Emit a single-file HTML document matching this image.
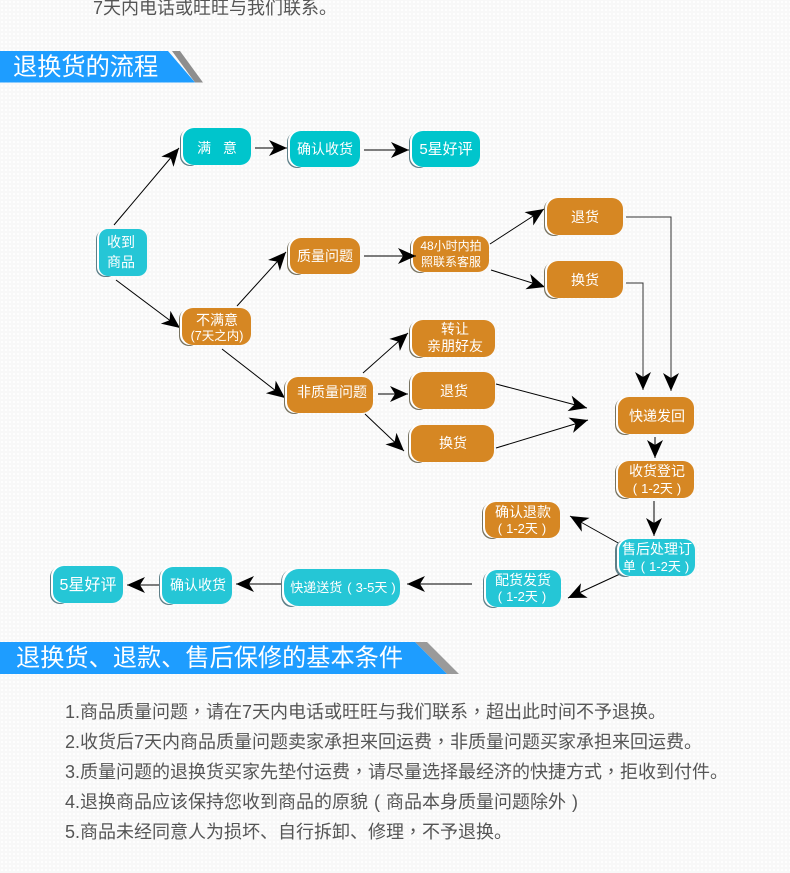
<!DOCTYPE html>
<html><head><meta charset="utf-8">
<style>
html,body{margin:0;padding:0}
body{width:790px;height:873px;overflow:hidden;background-color:#f8f8f8;background-image:radial-gradient(circle,#ffffff 1px,transparent 1.2px);background-size:4px 4px}
svg{display:block;position:absolute;left:0;top:0}
text{font-family:"Liberation Sans","Noto Sans CJK SC",sans-serif}
.n{fill:#fff;font-size:14px;text-anchor:middle}
.s{fill:#fff;font-size:13px;text-anchor:middle}
.t{fill:#fff;font-size:24.2px}
.l{fill:#555;font-size:18px}
.c{font-family:"Noto Sans CJK TC",sans-serif}
.a{stroke:#000;stroke-width:1;fill:none;marker-end:url(#h)}
.p{stroke:#333;stroke-width:1;fill:none;marker-end:url(#h)}
.o{fill:#d68723}.b{fill:#25c6d6}.g{fill:#00c5cc}
.d1{fill:#77725f}.d2{fill:#5d7f88}.w{fill:#fff}
</style></head><body>
<svg width="790" height="873" viewBox="0 0 790 873" xmlns="http://www.w3.org/2000/svg">
<defs>
<marker id="h" markerUnits="userSpaceOnUse" markerWidth="20" markerHeight="18" refX="18" refY="8" orient="auto">
<path d="M0 0 L18 8 L0 16 L5 8 Z" fill="#000"/>
</marker>
</defs>

<text x="93" y="14" class="l" fill="#555">7天内电话或旺旺与我们联系。</text>

<polygon points="172,51 180,51 203,82.5 195,82.5" fill="#8e8e8e"/>
<polygon points="0,51 168,51 195,82.5 0,82.5" fill="#1e9dff"/>
<text x="13" y="75" class="t">退换货的流程</text>

<polygon points="427,642 415,642 447,674 459,674" fill="#9a9a9a"/>
<polygon points="0,642 415,642 447,674 0,674" fill="#1e9dff"/>
<text x="16" y="666" class="t">退换货、退款、售后保修的基本条件</text>

<!-- connectors -->
<g>
<line class="a" x1="114" y1="225" x2="179" y2="148"/>
<line class="a" x1="255" y1="148" x2="287" y2="148"/>
<line class="a" x1="364" y1="150" x2="409" y2="150"/>
<line class="a" x1="116" y1="280" x2="180" y2="328"/>
<line class="a" x1="237" y1="306" x2="286" y2="252"/>
<line class="a" x1="222" y1="349" x2="285" y2="398"/>
<polyline class="p" points="626,217 671,217 671,391"/>
<polyline class="p" points="626,283 643,283 643,390"/>
<line class="a" x1="490" y1="244" x2="544" y2="209"/>
<line class="a" x1="491" y1="270" x2="545" y2="287"/>
<line class="a" x1="363" y1="373" x2="408" y2="333"/>
<line class="a" x1="378" y1="394" x2="408" y2="394"/>
<line class="a" x1="365" y1="414" x2="404" y2="451"/>
<line class="a" x1="496" y1="384" x2="587" y2="408"/>
<line class="a" x1="496" y1="448" x2="588" y2="420"/>
<line class="a" x1="655" y1="437" x2="655" y2="458"/>
<line class="a" x1="654" y1="501" x2="654" y2="536"/>
<line class="a" x1="620" y1="544" x2="570" y2="516"/>
<line class="a" x1="620" y1="574" x2="568" y2="598"/>
<line class="a" x1="472" y1="584" x2="407" y2="584"/>
<line class="a" x1="282" y1="584" x2="236" y2="584"/>
<line class="a" x1="162" y1="585" x2="127" y2="585"/>
</g>

<!-- nodes -->
<g>
<rect class="d2" x="180" y="129" width="20" height="37" rx="10"/><rect class="w" x="181" y="128" width="22" height="37" rx="10"/><rect class="g" x="183" y="128" width="68" height="37" rx="11"/>
<text class="n" x="217" y="153" xml:space="preserve">满   意</text>

<rect class="d2" x="287" y="132" width="20" height="36" rx="10"/><rect class="w" x="288" y="131" width="22" height="36" rx="10"/><rect class="g" x="290" y="131" width="70" height="36" rx="11"/>
<text class="n" x="325" y="154">确认收货</text>

<rect class="d2" x="409" y="132" width="20" height="36" rx="10"/><rect class="w" x="410" y="131" width="22" height="36" rx="10"/><rect class="g" x="412" y="131" width="68" height="36" rx="11"/>
<text class="n" x="446" y="154" style="font-size:15px">5星好评</text>

<rect class="d2" x="96" y="230" width="20" height="47" rx="9"/><rect class="w" x="97" y="229" width="22" height="47" rx="9"/><rect class="b" x="99" y="229" width="48" height="47" rx="9"/>
<text class="n" x="121" y="247">收到</text><text class="n" x="121" y="267">商品</text>

<rect class="d1" x="179" y="309" width="20" height="37" rx="10"/><rect class="w" x="180" y="308" width="22" height="37" rx="10"/><rect class="o" x="182" y="308" width="69" height="37" rx="11"/>
<text class="n" x="217" y="325">不满意</text><text class="s" x="217" y="340" style="font-size:12.5px">(7天之内)</text>

<rect class="d1" x="287" y="239" width="20" height="36" rx="10"/><rect class="w" x="288" y="238" width="22" height="36" rx="10"/><rect class="o" x="290" y="238" width="70" height="36" rx="11"/>
<text class="n" x="325" y="261">质量问题</text>

<rect class="d1" x="410" y="237" width="20" height="36" rx="10"/><rect class="w" x="411" y="236" width="22" height="36" rx="10"/><rect class="o" x="413" y="236" width="76" height="36" rx="11"/>
<text class="s" x="451" y="250" style="font-size:12px">48小时内拍</text><text class="s" x="451" y="266" style="font-size:12px">照联系客服</text>

<rect class="d1" x="544" y="199" width="20" height="37" rx="10"/><rect class="w" x="545" y="198" width="22" height="37" rx="10"/><rect class="o" x="547" y="198" width="76" height="37" rx="11"/>
<text class="n" x="585" y="222">退货</text>

<rect class="d1" x="544" y="262" width="20" height="37" rx="10"/><rect class="w" x="545" y="261" width="22" height="37" rx="10"/><rect class="o" x="547" y="261" width="76" height="37" rx="11"/>
<text class="n" x="585" y="285">换货</text>

<rect class="d1" x="409" y="321" width="20" height="37" rx="10"/><rect class="w" x="410" y="320" width="22" height="37" rx="10"/><rect class="o" x="412" y="320" width="83" height="37" rx="11"/>
<text class="n" x="455" y="334">转让</text><text class="n" x="455" y="351">亲朋好友</text>

<rect class="d1" x="284" y="378" width="20" height="36" rx="10"/><rect class="w" x="285" y="377" width="22" height="36" rx="10"/><rect class="o" x="287" y="377" width="86" height="36" rx="11"/>
<text class="n" x="332" y="397">非质量问题</text>

<rect class="d1" x="409" y="373" width="20" height="37" rx="10"/><rect class="w" x="410" y="372" width="22" height="37" rx="10"/><rect class="o" x="412" y="372" width="83" height="37" rx="11"/>
<text class="n" x="454" y="396">退货</text>

<rect class="d1" x="408" y="426" width="20" height="37" rx="10"/><rect class="w" x="409" y="425" width="22" height="37" rx="10"/><rect class="o" x="411" y="425" width="83" height="37" rx="11"/>
<text class="n" x="453" y="448">换货</text>

<rect class="d1" x="615" y="398" width="20" height="37" rx="10"/><rect class="w" x="616" y="397" width="22" height="37" rx="10"/><rect class="o" x="618" y="397" width="76" height="37" rx="11"/>
<text class="n" x="657" y="421">快递发回</text>

<rect class="d1" x="615" y="462" width="20" height="37" rx="10"/><rect class="w" x="616" y="461" width="22" height="37" rx="10"/><rect class="o" x="618" y="461" width="76" height="37" rx="11"/>
<text class="n" x="657" y="476">收货登记</text><text class="s" x="657" y="493">(<tspan dx="4">1-2天</tspan><tspan dx="4">)</tspan></text>

<rect class="d2" x="615" y="540" width="20" height="37" rx="10"/><rect class="w" x="617" y="539" width="22" height="37" rx="10"/><rect class="b" x="619" y="539" width="76" height="37" rx="11"/>
<text class="n" x="657" y="554">售后处理订</text><text class="s" x="656" y="571">单<tspan dx="5">(</tspan><tspan dx="4">1-2天</tspan><tspan dx="4">)</tspan></text>

<rect class="d1" x="482" y="503" width="20" height="36" rx="10"/><rect class="w" x="483" y="502" width="22" height="36" rx="10"/><rect class="o" x="485" y="502" width="75" height="36" rx="11"/>
<text class="n" x="523" y="517">确认退款</text><text class="s" x="522" y="533">(<tspan dx="4">1-2天</tspan><tspan dx="4">)</tspan></text>

<rect class="d2" x="483" y="571" width="20" height="37" rx="10"/><rect class="w" x="484" y="570" width="22" height="37" rx="10"/><rect class="b" x="486" y="570" width="75" height="37" rx="11"/>
<text class="n" x="523" y="585">配货发货</text><text class="s" x="522" y="601">(<tspan dx="4">1-2天</tspan><tspan dx="4">)</tspan></text>

<rect class="d2" x="281" y="570" width="20" height="37" rx="12"/><rect class="w" x="282" y="569" width="22" height="37" rx="12"/><rect class="b" x="284" y="569" width="116" height="37" rx="15"/>
<text class="s" x="343" y="592">快递送货<tspan dx="5">(</tspan><tspan dx="4">3-5天</tspan><tspan dx="4">)</tspan></text>

<rect class="d2" x="159" y="568" width="20" height="37" rx="10"/><rect class="w" x="160" y="567" width="22" height="37" rx="10"/><rect class="b" x="162" y="567" width="70" height="37" rx="11"/>
<text class="n" x="198" y="590">确认收货</text>

<rect class="d2" x="50" y="567" width="20" height="37" rx="10"/><rect class="w" x="51" y="566" width="22" height="37" rx="10"/><rect class="b" x="53" y="566" width="70" height="37" rx="11"/>
<text class="n" x="88" y="590" style="font-size:16px">5星好评</text>
</g>

<line class="a" x1="364" y1="256" x2="416" y2="256"/>

<!-- list -->
<text class="l" x="65" y="718">1.商品质量问题<tspan class="c">，</tspan>请在7天内电话或旺旺与我们联系<tspan class="c">，</tspan>超出此时间不予退换。</text>
<text class="l" x="65" y="748">2.收货后7天内商品质量问题卖家承担来回运费<tspan class="c">，</tspan>非质量问题买家承担来回运费。</text>
<text class="l" x="65" y="778">3.质量问题的退换货买家先垫付运费<tspan class="c">，</tspan>请尽量选择最经济的快捷方式<tspan class="c">，</tspan>拒收到付件。</text>
<text class="l" x="65" y="808">4.退换商品应该保持您收到商品的原貌<tspan dx="6">(</tspan><tspan dx="6">商品本身质量问题除外</tspan><tspan dx="6">)</tspan></text>
<text class="l" x="65" y="838">5.商品未经同意人为损坏、自行拆卸、修理<tspan class="c">，</tspan>不予退换。</text>
</svg>
</body></html>
